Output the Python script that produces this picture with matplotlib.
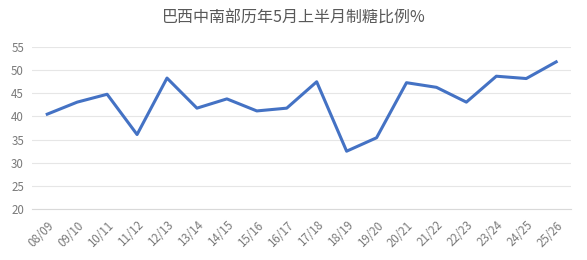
import matplotlib
matplotlib.use("Agg")
import matplotlib.pyplot as plt

plt.rcParams['font.family'] = ['Noto Sans CJK SC', 'DejaVu Sans']

seasons = ['08/09', '09/10', '10/11', '11/12', '12/13', '13/14', '14/15', '15/16', '16/17',
           '17/18', '18/19', '19/20', '20/21', '21/22', '22/23', '23/24', '24/25', '25/26']
ratio = [40.5, 43.1, 44.8, 36.1, 48.3, 41.8, 43.8, 41.2, 41.8,
         47.5, 32.5, 35.4, 47.3, 46.3, 43.1, 48.7, 48.2, 51.8]
yticks = [20, 25, 30, 35, 40, 45, 50, 55]

fig = plt.figure(figsize=(5.87, 2.6), dpi=100)
ax = fig.add_axes([0.055, 0.196, 0.918, 0.623])

x = list(range(len(seasons)))
ax.plot(x, ratio, color='#4472C4', lw=2.2, solid_joinstyle='round', zorder=3)

ax.set_xlim(-0.5, len(seasons) - 0.5)
ax.set_ylim(20, 55)
ax.set_yticks(yticks)
ax.set_xticks(x)
ax.set_xticklabels(seasons, rotation=45, ha='right', rotation_mode='anchor')
ax.tick_params(axis='both', length=0, labelsize=8.3, colors='#7a7a7a')
ax.tick_params(axis='x', pad=7)
ax.tick_params(axis='y', pad=6)
ax.grid(axis='y', color='#e6e6e6', lw=0.8)
ax.set_axisbelow(True)
for s in ['top', 'right', 'left']:
    ax.spines[s].set_visible(False)
ax.spines['bottom'].set_color('#d9d9d9')

fig.text(0.5, 0.929, '巴西中南部历年5月上半月制糖比例%', ha='center', va='center',
         fontsize=11.5, color='#595959')

fig.savefig('out.png', dpi=100)
